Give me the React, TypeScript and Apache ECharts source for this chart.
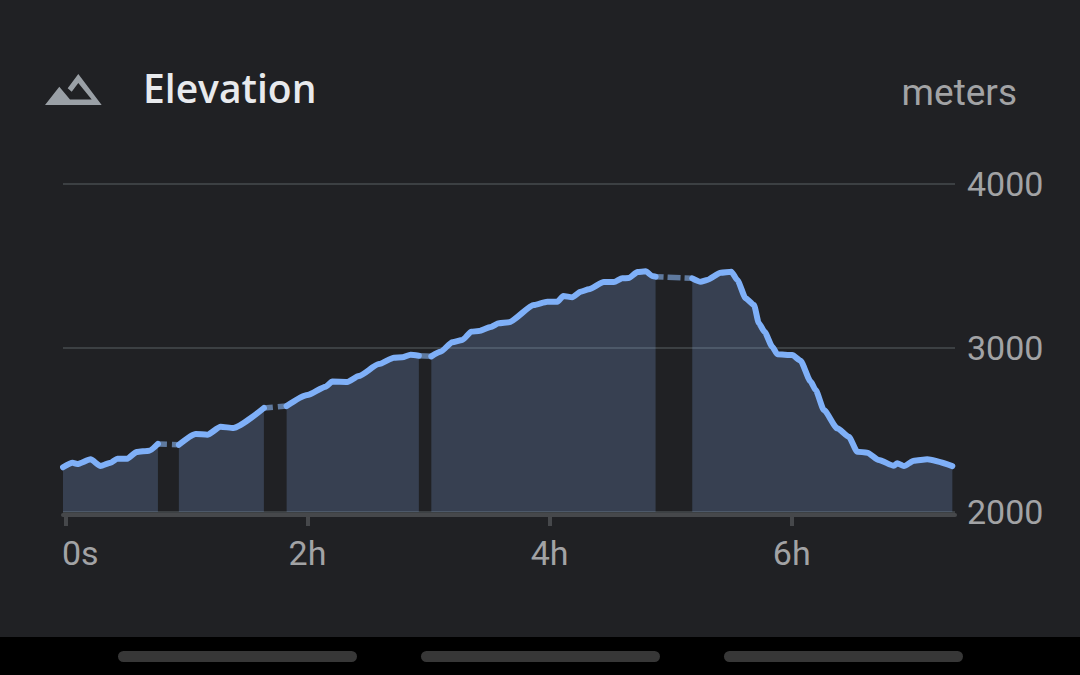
import React, { useEffect, useRef } from "react";
import * as echarts from "echarts";

const xTickValues = [0, 2, 4, 6];
const xTickLabels = ["0s", "2h", "4h", "6h"];
const yTicks = { min: 2000, max: 4000, step: 1000 };

const seg1Time = [-0.019, 0.06, 0.099, 0.209, 0.291, 0.375, 0.43, 0.512, 0.589, 0.694, 0.765];
const seg1Elev = [2273, 2301, 2293, 2321, 2280, 2301, 2325, 2325, 2366, 2374, 2415];
const seg2Time = [0.938, 1.077, 1.173, 1.283, 1.388, 1.64];
const seg2Elev = [2410, 2476, 2471, 2520, 2512, 2634];
const seg3Time = [1.828, 1.999, 2.15, 2.205, 2.329, 2.424, 2.59, 2.714, 2.783, 2.852, 2.92];
const seg3Elev = [2646, 2713, 2764, 2795, 2793, 2829, 2902, 2941, 2943, 2959, 2953];
const seg4Time = [3.023, 3.099, 3.196, 3.279, 3.353, 3.416, 3.513, 3.581, 3.664, 3.87, 3.981, 4.064, 4.113, 4.187, 4.256, 4.324, 4.448, 4.531, 4.6, 4.654, 4.725, 4.793, 4.848, 4.875];
const seg4Elev = [2949, 2977, 3035, 3049, 3099, 3104, 3128, 3151, 3157, 3262, 3282, 3282, 3317, 3309, 3343, 3358, 3402, 3402, 3425, 3427, 3463, 3468, 3439, 3435];
const seg5Time = [5.178, 5.247, 5.302, 5.413, 5.501, 5.55, 5.619, 5.688, 5.728, 5.775, 5.839, 5.88, 6.004, 6.072, 6.156, 6.197, 6.265, 6.376, 6.471, 6.541, 6.623, 6.719, 6.843, 6.871, 6.926, 7.009, 7.119, 7.326];
const seg5Elev = [3425, 3404, 3415, 3459, 3465, 3415, 3303, 3262, 3151, 3099, 3008, 2962, 2957, 2923, 2795, 2744, 2622, 2510, 2459, 2368, 2362, 2317, 2282, 2297, 2280, 2313, 2321, 2280];

const segments = [
  [seg1Time, seg1Elev],
  [seg2Time, seg2Elev],
  [seg3Time, seg3Elev],
  [seg4Time, seg4Elev],
  [seg5Time, seg5Elev],
];
const gapDashes = [
  { dash: [9, 5], offset: 0 },
  { dash: [9, 5], offset: 0 },
  { dash: [14, 0], offset: 0 },
  { dash: [13, 4], offset: 5 },
];

const BG = "#202124";
const GREY = "#a2a3a5";
const ICON_GREY = "#9aa0a6";
const RULE = "#3c4043";
const AXIS = "#46484b";
const BLUE = "#7fb0f8";

const ICON =
  "M45 105 L59.3 86.7 L70 99.5 L91.7 99.5 L78.3 83 L71.7 91.7 L67.7 88.3 L78.3 74 L101.7 105 Z";
echarts.graphic.registerShape("mountainIcon", echarts.graphic.extendPath(ICON, {}) as any);

export default function App() {
  const ref = useRef<HTMLDivElement>(null);
  useEffect(() => {
    document.body.style.margin = "0";
    const chart = echarts.init(ref.current!, undefined, { renderer: "svg" });
    const toPairs = (t: number[], e: number[]) => t.map((v, i) => [v, e[i]]);
    const areaSeries = segments.map(([t, e]) => ({
      type: "line",
      data: toPairs(t, e),
      showSymbol: false,
      symbol: "none",
      clip: false,
      smooth: 0.2,
      smoothMonotone: "x",
      z: 4,
      lineStyle: { color: BLUE, width: 6, cap: "round", join: "round" },
      areaStyle: { color: "rgba(138,180,248,0.31)", origin: "start" },
    }));
    const gapSeries = gapDashes.map((g, i) => {
      const [ta, ea] = segments[i];
      const [tb, eb] = segments[i + 1];
      return {
        type: "line",
        data: [
          [ta[ta.length - 1], ea[ea.length - 1]],
          [tb[0], eb[0]],
        ],
        showSymbol: false,
        symbol: "none",
        z: 3,
        lineStyle: {
          color: "#5f7a9f",
          width: 5.5,
          type: g.dash,
          dashOffset: g.offset,
          cap: "butt",
        },
      };
    });
    chart.setOption({
      animation: false,
      backgroundColor: BG,
      grid: { left: 63, right: 125, top: 184, height: 328 },
      title: {
        text: "Elevation",
        left: 143,
        top: 68,
        padding: 0,
        textStyle: { color: "#e8eaed", fontFamily: "Open Sans", fontWeight: 600, fontSize: 39 },
      },
      xAxis: {
        type: "value",
        min: -0.019,
        max: 7.348,
        offset: 3,
        splitLine: { show: false },
        axisLine: { show: true, onZero: false, lineStyle: { color: AXIS, width: 4 } },
        axisTick: { show: true, customValues: xTickValues, length: 11, lineStyle: { color: AXIS, width: 4 } },
        axisLabel: {
          customValues: xTickValues,
          color: GREY,
          fontFamily: "Roboto",
          fontSize: 34,
          margin: 21,
          formatter: (v: number) => {
            const label = xTickLabels[xTickValues.indexOf(v)];
            return v === xTickValues[0] ? `{first|${label}}` : label;
          },
          rich: { first: { color: GREY, fontFamily: "Roboto", fontSize: 34, padding: [0, 0, 0, 30] } },
        },
      },
      yAxis: {
        type: "value",
        position: "right",
        min: yTicks.min,
        max: yTicks.max,
        interval: yTicks.step,
        axisLine: { show: false },
        axisTick: { show: false },
        splitLine: { lineStyle: { color: RULE, width: 2 } },
        axisLabel: {
          color: GREY,
          fontFamily: "Roboto",
          fontSize: 34,
          margin: 12,
          formatter: (v: number) => String(v),
        },
      },
      series: [...gapSeries, ...areaSeries],
      graphic: [
        { type: "mountainIcon", x: 0, y: 0, style: { fill: ICON_GREY } },
        {
          type: "text",
          x: 1017,
          y: 92,
          style: {
            text: "meters",
            fill: GREY,
            font: "37px Roboto",
            textAlign: "right",
            textVerticalAlign: "middle",
          },
        },
        { type: "rect", shape: { x: 0, y: 637, width: 1080, height: 38 }, style: { fill: "#000" } },
        { type: "rect", shape: { x: 118, y: 651, width: 239, height: 11, r: 5.5 }, style: { fill: "#373737" } },
        { type: "rect", shape: { x: 421, y: 651, width: 239, height: 11, r: 5.5 }, style: { fill: "#373737" } },
        { type: "rect", shape: { x: 724, y: 651, width: 239, height: 11, r: 5.5 }, style: { fill: "#373737" } },
      ],
    } as any);
    return () => chart.dispose();
  }, []);
  return <div ref={ref} style={{ width: 1080, height: 675 }} />;
}
